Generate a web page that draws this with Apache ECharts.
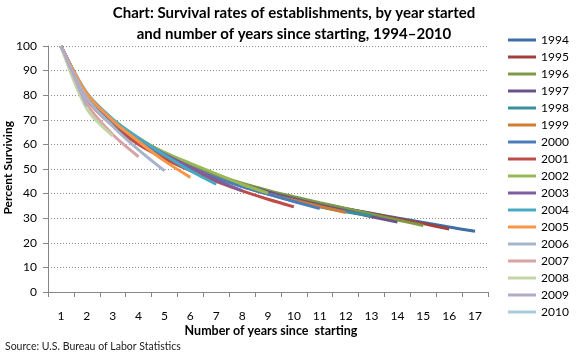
<!DOCTYPE html>
<html>
<head>
<meta charset="utf-8">
<script src="https://cdn.jsdelivr.net/npm/echarts@6/dist/echarts.min.js"></script>
<style>
html,body{margin:0;padding:0;background:#fff;}
#chart{width:578px;height:357px;}
</style>
</head>
<body>
<div id="chart"></div>
<script>
const categories = ['1','2','3','4','5','6','7','8','9','10','11','12','13','14','15','16','17'];
const yearNames = ['1994','1995','1996','1997','1998','1999','2000','2001','2002','2003','2004','2005','2006','2007','2008','2009','2010'];

const s1994 = [100, 79.6, 68.8, 61.2, 55.4, 50.6, 46.7, 43.4, 40.6, 38.1, 35.9, 33.9, 32.0, 30.1, 28.3, 26.4, 24.7];
const s1995 = [100, 79.9, 69.2, 61.8, 56.0, 51.2, 47.2, 43.8, 40.9, 38.3, 36.0, 33.9, 31.8, 29.8, 27.8, 25.6];
const s1996 = [100, 79.7, 69.0, 61.8, 56.1, 51.5, 47.6, 44.2, 41.3, 38.7, 36.3, 34.0, 31.6, 29.3, 27.0];
const s1997 = [100, 79.9, 69.4, 62.2, 56.5, 51.6, 47.4, 43.8, 40.7, 37.9, 35.4, 33.0, 30.6, 28.4];
const s1998 = [100, 80.2, 69.5, 62.3, 56.4, 51.2, 46.8, 43.0, 39.8, 37.0, 34.6, 32.6, 30.9];
const s1999 = [100, 80.6, 70.0, 62.6, 56.3, 50.9, 46.6, 43.0, 39.9, 37.3, 34.8, 32.3];
const s2000 = [100, 80.2, 69.3, 61.7, 55.5, 50.6, 46.4, 42.9, 39.8, 36.8, 33.9];
const s2001 = [100, 78.5, 67.6, 60.0, 54.2, 49.3, 45.0, 41.1, 37.7, 34.6];
const s2002 = [100, 79.5, 69.2, 62.2, 56.8, 52.3, 48.0, 43.8, 40.2];
const s2003 = [100, 79.8, 69.3, 62.0, 56.1, 50.8, 45.6, 41.2];
const s2004 = [100, 80.9, 70.3, 62.6, 55.7, 49.3, 43.8];
const s2005 = [100, 80.6, 69.7, 61.2, 53.3, 46.6];
const s2006 = [100, 78.8, 67.4, 57.8, 49.3];
const s2007 = [100, 76.5, 64.0, 55.0];
const s2008 = [100, 74.5, 63.5];
const s2009 = [100, 75.5];
const s2010 = [100];

const yTicks = ['0','10','20','30','40','50','60','70','80','90','100'];

const seriesValues = [s1994,s1995,s1996,s1997,s1998,s1999,s2000,s2001,s2002,s2003,s2004,s2005,s2006,s2007,s2008,s2009,s2010];
const colors = ['#3d6fa6','#a33f3c','#7e9a44','#6a5389','#38909f','#d07c33',
                '#4a7ebb','#be4b48','#98b954','#7d5fa0','#46aac5','#f79646',
                '#a5b5cc','#d8a3a4','#c3d5a6','#b5a9c8','#a6cdd8'];

const FONT = 'Lato';
const chart = echarts.init(document.getElementById('chart'), null, {renderer:'canvas'});
chart.setOption({
  animation: false,
  color: colors,
  textStyle: {fontFamily: FONT},
  title: {
    text: 'Chart: Survival rates of establishments, by year started\nand number of years since starting, 1994–2010',
    left: 294, top: 3, textAlign: 'center', padding: 0,
    textStyle: {fontFamily: FONT, fontSize: 15, fontWeight: 'bold', color: '#000', lineHeight: 21}
  },
  legend: {
    orient: 'vertical', left: 508, top: 34, padding: 0,
    icon: 'rect', itemWidth: 28, itemHeight: 3, itemGap: 5,
    textStyle: {fontFamily: FONT, fontSize: 12, lineHeight: 12, color: '#000'},
    data: yearNames
  },
  grid: {left: 48, right: 90, top: 46, bottom: 65},
  xAxis: {
    type: 'category', data: categories, boundaryGap: true,
    axisLine: {lineStyle: {color: '#868686', width: 1}},
    axisTick: {show: true, length: 5, lineStyle: {color: '#868686'}},
    axisLabel: {margin: 18, fontSize: 12, color: '#000', fontFamily: FONT}
  },
  yAxis: {
    type: 'value', min: 0, max: 100, interval: 10,
    axisLine: {show: true, lineStyle: {color: '#868686', width: 1}},
    axisTick: {show: true, length: 5, lineStyle: {color: '#868686'}},
    axisLabel: {margin: 11, fontSize: 12, color: '#000', fontFamily: FONT,
      formatter: function(v){ return yTicks[Math.round(v/10)]; }},
    splitLine: {show: true, lineStyle: {color: '#8c8c8c', type: [1, 2], width: 1}}
  },
  graphic: [
    {type: 'text', left: 2, top: 121, rotation: Math.PI/2, style: {text: 'Percent Surviving', font: 'bold 12px ' + FONT, fill: '#000'}},
    {type: 'text', x: 271, y: 331, style: {text: 'Number of years since  starting', font: 'bold 12.5px ' + FONT, fill: '#000', align: 'center', verticalAlign: 'middle'}},
    {type: 'text', x: 5, y: 347, style: {text: 'Source: U.S. Bureau of Labor Statistics', font: '10.5px ' + FONT, fill: '#222', verticalAlign: 'middle'}}
  ],
  series: seriesValues.map(function(vals, i){
    return {
      name: yearNames[i], type: 'line', data: vals,
      showSymbol: false, smooth: 0.3,
      lineStyle: {width: 3, color: colors[i]},
      itemStyle: {color: colors[i]}
    };
  })
});
</script>
</body>
</html>
